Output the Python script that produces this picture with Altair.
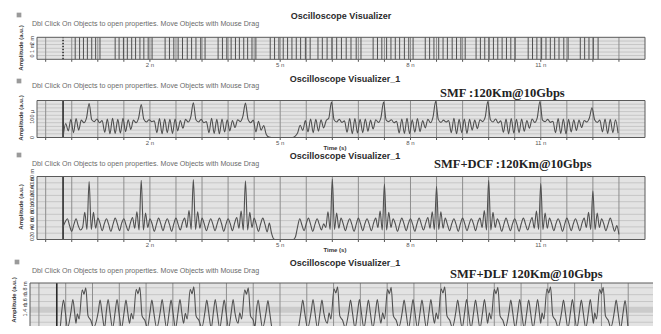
import altair as alt
import pandas as pd

# ------------------------------------------------------------------ data
TIME_DOMAIN = [-0.6, 13.4]          # ns
VGRID = [-0.4, 0.2, 0.8, 1.4, 2.0, 2.6, 3.2, 3.8, 4.4, 5.0, 5.6, 6.2, 6.8,
         7.4, 8.0, 8.6, 9.2, 9.8, 10.4, 11.0, 11.6, 12.2, 12.8]
XTICK_T = [2, 5, 8, 11]
XTICK_LABELS = ["2 n", "5 n", "8 n", "11 n"]

P1_HGRID = [1.7, 3.3, 5.0, 6.7, 8.3]
P2_HGRID = [1, 2, 3, 4, 5, 6, 7, 8, 9]
P3_HGRID = [1, 2, 3, 4, 5, 6, 7, 8, 9]
P4_HGRID = [1.3, 2.6, 3.9, 6.5, 7.8, 9.1]

# panel 1 : transition edges of the input bit stream (ns)
P1_EDGES = [0.28, 0.38, 0.47, 0.56, 0.66, 0.75, 0.85,
            1.2, 1.29, 1.39, 1.48, 1.58, 1.67, 1.77, 1.86, 1.96, 2.05,
            2.35, 2.45, 2.55, 2.65, 2.75, 2.86, 2.96, 3.06, 3.17, 3.27,
            3.57, 3.67, 3.77, 3.87, 3.97, 4.06, 4.16, 4.25, 4.35, 4.44,
            4.77, 4.87, 4.97, 5.07, 5.17, 5.27, 5.37, 5.47, 5.58, 5.69,
            5.87, 5.97, 6.08, 6.19, 6.3, 6.41, 6.52, 6.63, 6.75, 6.86,
            7.14, 7.24, 7.34, 7.45, 7.55, 7.65, 7.75, 7.86, 7.96, 8.06,
            8.34, 8.44, 8.54, 8.65, 8.75, 8.85, 8.96, 9.06, 9.16, 9.26,
            9.51, 9.61, 9.71, 9.81, 9.91, 10.01, 10.11, 10.21, 10.31, 10.41,
            10.71, 10.81, 10.91, 11.02, 11.12, 11.22, 11.32, 11.42, 11.53, 11.63,
            11.91, 12.01, 12.11, 12.21, 12.32]

# panel 2 : SMF 120 km, sampled every 0.06 ns from t = 0
P2_STEP = 0.06
P2_VALUES = [
    0.0, 3.8, 1.8, 4.9, 1.3, 5.1, 2.0, 4.7, 4.0, 5.3,
    9.2,
    4.8, 4.3, 5.0, 4.0, 4.6, 1.4, 5.0, 1.0, 5.2, 1.1, 4.9, 1.2, 5.2, 1.6, 4.8, 2.2, 4.7, 4.0, 5.3,
    8.9,
    4.9, 4.2, 4.8, 4.3, 4.5, 1.3, 5.1, 1.0, 5.0, 1.3, 4.9, 1.1, 5.0, 1.8, 4.6, 2.5, 4.9, 4.2, 5.5,
    9.4,
    4.8, 4.2, 4.9, 4.0, 4.3, 1.3, 5.2, 1.1, 4.9, 1.0, 5.0, 1.5, 4.8, 1.8, 4.6, 2.7, 4.8, 4.3, 5.7,
    9.3,
    4.9, 4.0, 4.7, 1.5, 4.4, 2.0, 3.2, 0.8,
    0.1, 0.0, 0.0, 0.0, 0.0, 0.0, 0.0, 0.0, 0.0, 0.0, 0.3,
    1.2, 3.3, 1.9, 4.6, 1.5, 5.0, 1.3, 4.9, 1.7, 4.8, 2.6, 4.6, 5.3,
    9.6,
    4.8, 4.2, 4.9, 4.1, 4.5, 1.4, 5.1, 1.0, 5.1, 1.2, 4.9, 1.3, 5.0, 1.7, 4.7, 2.3, 4.8, 4.1, 5.4,
    9.6,
    4.7, 4.3, 4.8, 4.0, 4.4, 1.2, 5.0, 1.1, 5.2, 1.0, 4.8, 1.4, 5.1, 1.6, 4.6, 2.6, 4.9, 4.0, 5.6,
    9.8,
    4.9, 4.1, 4.7, 4.2, 4.6, 1.3, 5.2, 1.0, 4.9, 1.3, 5.0, 1.1, 4.9, 2.0, 4.7, 2.4, 4.8, 4.3, 5.5,
    9.7,
    4.8, 4.2, 5.0, 3.9, 4.5, 1.4, 5.0, 1.0, 5.1, 1.2, 4.9, 1.3, 5.0, 1.7, 4.6, 2.5, 5.0, 4.1, 5.4,
    9.7,
    4.7, 4.3, 4.9, 4.1, 4.4, 1.3, 5.1, 1.1, 5.0, 1.0, 4.9, 1.5, 4.8, 1.9, 4.7, 2.7, 4.6, 4.2, 5.3,
    8.0,
    4.8, 4.1, 4.7, 1.5, 5.0, 1.1, 4.9, 1.3, 4.8, 1.2,
]

# panel 3 : SMF + DCF, sampled every 0.05 ns from t = 0
P3_STEP = 0.05
P3_VALUES = [
    2.0, 2.8, 3.3, 2.2, 1.3, 2.4, 3.3, 2.2, 1.5,
    1.9, 4.3, 1.6, 9.2, 1.6, 4.3, 1.8, 3.4, 2.6, 1.4, 2.5, 3.3, 2.4, 1.3, 2.4, 3.4, 2.5, 1.4, 2.6, 3.3, 2.3, 1.4, 2.6, 3.5,
    1.8, 4.4, 1.5, 9.4, 1.5, 4.2, 1.9, 3.3, 2.5, 1.3, 2.4, 3.4, 2.5, 1.4, 2.5, 3.3, 2.4, 1.3, 2.5, 3.4, 2.4, 1.5, 2.7, 3.4,
    1.9, 4.6, 1.6, 9.5, 1.6, 4.4, 1.8, 3.4, 2.5, 1.4, 2.4, 3.3, 2.4, 1.4, 2.5, 3.4, 2.5, 1.3, 2.4, 3.3, 2.5, 1.4, 2.6, 3.5,
    1.8, 4.5, 1.5, 9.3, 1.5, 4.3, 1.9, 3.4, 2.4, 1.3, 2.5, 3.4, 2.4, 1.2, 2.6,
    1.0, 0.1, 0.0, 0.0, 0.0, 0.0, 0.0, 0.0, 0.0, 0.0, 0.0, 0.4,
    2.0, 3.3, 2.3, 1.4, 2.5, 3.4, 2.4, 1.3, 2.4, 3.3, 2.4, 1.5, 2.5,
    1.9, 4.4, 1.6, 9.6, 1.6, 4.2, 1.8, 3.4, 2.5, 1.4, 2.5, 3.3, 2.4, 1.3, 2.4, 3.4, 2.5, 1.4, 2.5, 3.3, 2.4, 1.4, 2.6, 3.4,
    1.9, 4.5, 1.5, 8.8, 1.5, 4.3, 1.9, 3.3, 2.5, 1.3, 2.4, 3.4, 2.5, 1.4, 2.5, 3.3, 2.4, 1.3, 2.5, 3.4, 2.4, 1.5, 2.6, 3.5,
    1.8, 4.4, 1.6, 8.4, 1.6, 4.4, 1.8, 3.4, 2.4, 1.4, 2.5, 3.3, 2.4, 1.3, 2.5, 3.4, 2.5, 1.4, 2.4, 3.3, 2.5, 1.4, 2.7, 3.4,
    1.9, 4.6, 1.5, 9.4, 1.5, 4.3, 1.9, 3.3, 2.5, 1.3, 2.4, 3.4, 2.4, 1.4, 2.5, 3.3, 2.4, 1.3, 2.5, 3.4, 2.4, 1.5, 2.6, 3.5,
    1.8, 4.5, 1.6, 8.9, 1.6, 4.2, 1.8, 3.4, 2.5, 1.4, 2.5, 3.3, 2.5, 1.3, 2.4, 3.4, 2.5, 1.4, 2.5, 3.3, 2.4, 1.4, 2.6, 3.4,
    1.9, 4.3, 1.6, 7.7, 1.6, 4.2, 1.9, 3.3, 2.5, 1.4, 2.4, 3.4, 2.4, 1.3, 2.2, 0.8,
]

# panel 4 : SMF + DLF, waveform vertices (t ns, amplitude)
P4_POINTS = [
    (0.00, 1.8), (0.07, 1.4), (0.11, 4.6), (0.15, 6.8), (0.19, 4.6), (0.24, 1.5),
    (0.32, 4.7), (0.36, 6.9), (0.40, 4.4),
    (0.43, 2.4), (0.46, 4.2), (0.50, 3.2), (0.57, 8.7), (0.61, 7.9), (0.65, 9.1), (0.70, 3.8), (0.76, 3.0), (0.82, 1.6),
    (0.93, 4.6), (0.97, 6.8), (1.01, 4.6), (1.07, 1.5), (1.11, 4.6), (1.15, 6.9), (1.19, 4.6), (1.25, 1.5),
    (1.31, 4.7), (1.35, 6.9), (1.39, 4.6), (1.45, 1.5), (1.51, 4.6), (1.55, 6.8), (1.59, 4.4),
    (1.63, 2.4), (1.67, 4.3), (1.71, 3.2), (1.78, 8.8), (1.82, 8.0), (1.86, 9.2), (1.91, 3.8), (1.97, 3.0), (2.03, 1.6),
    (2.09, 4.6), (2.13, 6.8), (2.17, 4.6), (2.24, 1.5), (2.32, 4.7), (2.36, 6.9), (2.40, 4.6), (2.46, 1.5),
    (2.52, 4.6), (2.56, 6.8), (2.60, 4.6), (2.66, 1.5), (2.72, 4.7), (2.76, 6.9), (2.80, 4.4),
    (2.84, 2.4), (2.88, 4.3), (2.92, 3.2), (2.99, 8.8), (3.03, 8.0), (3.07, 9.3), (3.12, 3.8), (3.18, 3.0), (3.25, 1.6),
    (3.32, 4.6), (3.36, 6.8), (3.40, 4.6), (3.46, 1.5), (3.51, 4.6), (3.55, 6.9), (3.59, 4.6), (3.65, 1.5),
    (3.71, 4.7), (3.75, 6.8), (3.79, 4.6), (3.85, 1.5), (3.91, 4.6), (3.95, 6.9), (3.99, 4.4),
    (4.06, 2.4), (4.10, 4.4), (4.14, 3.2), (4.21, 8.7), (4.25, 7.9), (4.29, 9.1), (4.34, 3.8), (4.40, 3.0), (4.44, 1.7),
    (4.47, 4.6), (4.51, 6.8), (4.55, 4.6), (4.61, 1.5), (4.69, 4.6), (4.73, 6.7), (4.77, 4.4), (4.83, 1.2),
    (4.92, 0.7), (5.30, 0.7), (5.40, 1.2),
    (5.47, 4.6), (5.51, 6.8), (5.55, 4.6), (5.62, 1.5), (5.70, 4.7), (5.74, 6.9), (5.78, 4.6), (5.84, 1.5),
    (5.90, 4.6), (5.94, 6.8), (5.98, 4.4),
    (6.06, 2.4), (6.10, 4.4), (6.14, 3.2), (6.21, 8.9), (6.25, 8.1), (6.29, 9.3), (6.34, 3.8), (6.40, 3.0), (6.46, 1.6),
    (6.54, 4.6), (6.58, 6.8), (6.62, 4.6), (6.68, 1.5), (6.74, 4.7), (6.78, 6.9), (6.82, 4.6), (6.88, 1.5),
    (6.94, 4.6), (6.98, 6.8), (7.02, 4.6), (7.08, 1.5), (7.14, 4.6), (7.18, 6.9), (7.22, 4.4),
    (7.26, 2.4), (7.30, 4.4), (7.34, 3.2), (7.41, 8.8), (7.45, 8.0), (7.49, 9.2), (7.54, 3.8), (7.60, 3.0), (7.66, 1.6),
    (7.74, 4.6), (7.78, 6.8), (7.82, 4.6), (7.88, 1.5), (7.94, 4.7), (7.98, 6.9), (8.02, 4.6), (8.08, 1.5),
    (8.14, 4.6), (8.18, 6.8), (8.22, 4.6), (8.28, 1.5), (8.34, 4.6), (8.38, 6.9), (8.42, 4.4),
    (8.46, 2.4), (8.50, 4.4), (8.54, 3.2), (8.61, 8.9), (8.65, 8.1), (8.69, 9.3), (8.74, 3.8), (8.80, 3.0), (8.86, 1.6),
    (8.94, 4.6), (8.98, 6.8), (9.02, 4.6), (9.08, 1.5), (9.14, 4.7), (9.18, 6.9), (9.22, 4.6), (9.28, 1.5),
    (9.34, 4.6), (9.38, 6.8), (9.42, 4.6), (9.48, 1.5), (9.54, 4.6), (9.58, 6.9), (9.62, 4.4),
    (9.65, 2.4), (9.69, 4.4), (9.73, 3.2), (9.80, 8.8), (9.84, 8.0), (9.88, 9.2), (9.93, 3.8), (9.99, 3.0), (10.05, 1.6),
    (10.13, 4.6), (10.17, 6.8), (10.21, 4.6), (10.27, 1.5), (10.33, 4.7), (10.37, 6.9), (10.41, 4.6), (10.47, 1.5),
    (10.53, 4.6), (10.57, 6.8), (10.61, 4.6), (10.67, 1.5), (10.73, 4.6), (10.77, 6.9), (10.81, 4.4),
    (10.84, 2.4), (10.87, 4.4), (10.91, 3.2), (10.98, 8.9), (11.02, 8.1), (11.06, 9.3), (11.11, 3.8), (11.17, 3.0), (11.23, 1.6),
    (11.31, 4.6), (11.35, 6.8), (11.39, 4.6), (11.45, 1.5), (11.51, 4.7), (11.55, 6.9), (11.59, 4.6), (11.65, 1.5),
    (11.71, 4.6), (11.75, 6.8), (11.79, 4.6), (11.85, 1.5), (11.91, 4.6), (11.95, 6.9), (11.99, 4.4),
    (12.02, 2.4), (12.05, 4.4), (12.09, 3.2), (12.16, 8.8), (12.20, 8.0), (12.24, 9.2), (12.29, 3.8), (12.35, 3.0), (12.41, 1.6),
    (12.49, 4.6), (12.53, 6.8), (12.57, 4.6), (12.63, 1.5), (12.69, 4.7), (12.73, 6.7), (12.77, 4.0), (12.80, 1.0),
]

TITLES = ["Oscilloscope Visualizer", "Oscilloscope Visualizer_1",
          "Oscilloscope Visualizer_1", "Oscilloscope Visualizer_1"]
HINT = "Dbl Click On Objects to open properties.  Move Objects with Mouse Drag"
CASES = [None, "SMF :120Km@10Gbps", "SMF+DCF :120Km@10Gbps", "SMF+DLF 120Km@10Gbps"]
Y_TITLE = "Amplitude (a.u.)"
P2_YLABELS = [(0, "0"), (5.6, "100 \u03bc")]
P3_YLABELS = [(0, "0"), (1.25, "20 m"), (2.5, "40 m"), (3.75, "60 m"), (5, "80 m"),
              (6.25, "100 m"), (7.5, "120 m"), (8.75, "140 m"), (10, "160 m")]
P1_YLABELS = [(1.5, "0"), (5, "1 m"), (8.5, "2 m")]
P4_YLABELS = [(5.0, "1.4 m"), (7.0, "1.6 m"), (9.0, "1.8 m")]

# ------------------------------------------------------------------ style
BG = "#e3e3e3"
HGRID_C = "#c6c6c6"
VGRID_C = "#8e8e8e"
WAVE_C = "#505050"
BORDER_C = "#5a5a5a"
FONT = "Liberation Sans"

X_MAIN = [29, 637]
X_P4 = [22, 647]


def panel(top, bottom, xr, hgrid, ylabels, ytitle_y, wave=None, edges=None,
          band=None, xlabels=True, time_title=False, zero_dash=None):
    xs = alt.Scale(domain=TIME_DOMAIN, range=xr, zero=False, nice=False)
    ys = alt.Scale(domain=[0, 10], range=[bottom, top], zero=False, nice=False)
    one = pd.DataFrame({"a": [0]})

    def X(f):
        return alt.X(f, type="quantitative", scale=xs, axis=None)

    def Y(f):
        return alt.Y(f, type="quantitative", scale=ys, axis=None)

    xd0 = alt.XDatum(TIME_DOMAIN[0], scale=xs, axis=None)
    xd1 = alt.X2Datum(TIME_DOMAIN[1])
    yd0 = alt.YDatum(0, scale=ys, axis=None)
    yd1 = alt.Y2Datum(10)

    L = []
    L.append(alt.Chart(one).mark_rect(color=BG).encode(x=xd0, x2=xd1, y=yd0, y2=yd1))
    if band is not None:
        L.append(alt.Chart(one).mark_rect(color="#cbcbcb").encode(
            x=xd0, x2=xd1, y=alt.YDatum(band[0], scale=ys, axis=None), y2=alt.Y2Datum(band[1])))
    L.append(alt.Chart(pd.DataFrame({"v": hgrid})).mark_rule(color=HGRID_C, strokeWidth=1).encode(
        x=xd0, x2=xd1, y=Y("v")))
    vg = pd.DataFrame({"t": VGRID})
    L.append(alt.Chart(vg).mark_rule(color=VGRID_C, strokeWidth=1).encode(
        x=X("t"), y=yd0, y2=yd1))
    L.append(alt.Chart(vg).mark_rule(color="#555", strokeWidth=1).encode(
        x=X("t"), y=alt.value(bottom), y2=alt.value(bottom + 2.5)))
    L.append(alt.Chart(pd.DataFrame({"t": [0.0]})).mark_rule(
        color="#2a2a2a", strokeWidth=1.6, strokeDash=zero_dash or [1, 0]).encode(
        x=X("t"), y=yd0, y2=yd1))
    if edges is not None:
        L.append(alt.Chart(pd.DataFrame({"t": edges})).mark_rule(color=WAVE_C, strokeWidth=1).encode(
            x=X("t"), y=yd0, y2=yd1))
    if wave is not None:
        L.append(alt.Chart(wave).mark_line(color=WAVE_C, strokeWidth=1.1, clip=True,
                                           interpolate="monotone").encode(
            x=X("t"), y=Y("v"), order="t:Q"))
    L.append(alt.Chart(one).mark_rect(fillOpacity=0, stroke=BORDER_C, strokeWidth=1).encode(
        x=xd0, x2=xd1, y=yd0, y2=yd1))
    if xlabels:
        L.append(alt.Chart(pd.DataFrame({"t": XTICK_T, "lab": XTICK_LABELS})).mark_text(
            font=FONT, fontSize=6, color="#555", baseline="middle").encode(
            x=X("t"), y=alt.value(bottom + 5.5), text="lab:N"))
    if time_title:
        L.append(alt.Chart(one).mark_text(font=FONT, fontSize=6, fontWeight="bold", color="#333",
                                          baseline="middle").encode(
            x=alt.value(327), y=alt.value(bottom + 10.5), text=alt.value("Time (s)")))
    yl = pd.DataFrame({"v": [a for a, _ in ylabels], "lab": [b for _, b in ylabels]})
    L.append(alt.Chart(yl).mark_text(font=FONT, fontSize=5.5, color="#333", angle=270,
                                     baseline="middle", align="center").encode(
        x=alt.value(xr[0] - 5), y=Y("v"), text="lab:N"))
    L.append(alt.Chart(one).mark_text(font=FONT, fontSize=6, fontWeight="bold", color="#333",
                                      angle=270, baseline="middle", align="center").encode(
        x=alt.value(xr[0] - 16), y=alt.value(ytitle_y), text=alt.value(Y_TITLE)))
    return L


def header(hint_y, icon_xy, case=None, case_xy=None):
    one = pd.DataFrame({"a": [0]})
    L = [
        alt.Chart(one).mark_text(font=FONT, fontSize=7.1, color="#6a6a6a",
                                 baseline="middle", align="left").encode(
            x=alt.value(24), y=alt.value(hint_y), text=alt.value(HINT)),
        alt.Chart(one).mark_square(size=22, color="#9a9a9a", opacity=1).encode(
            x=alt.value(icon_xy[0]), y=alt.value(icon_xy[1])),
    ]
    if case is not None:
        L.append(alt.Chart(one).mark_text(font="Liberation Serif", fontSize=12.5, fontWeight="bold",
                                          color="#222", baseline="middle", align="left").encode(
            x=alt.value(case_xy[0]), y=alt.value(case_xy[1]), text=alt.value(case)))
    return L


def title_layer(text, x, y):
    one = pd.DataFrame({"a": [0]})
    return alt.Chart(one).mark_text(font=FONT, fontSize=9, fontWeight="bold", color="#2b2b2b",
                                    baseline="middle", align="center").encode(
        x=alt.value(x), y=alt.value(y), text=alt.value(text))


p2_df = pd.DataFrame({"t": [round(i * P2_STEP, 4) for i in range(len(P2_VALUES))], "v": P2_VALUES})
p3_df = pd.DataFrame({"t": [round(i * P3_STEP, 4) for i in range(len(P3_VALUES))], "v": P3_VALUES})
p4_df = pd.DataFrame({"t": [a for a, _ in P4_POINTS], "v": [b for _, b in P4_POINTS]})

layers = []
# panel 1
layers += panel(29.3, 51.3, X_MAIN, P1_HGRID, P1_YLABELS, 40, edges=P1_EDGES, zero_dash=[1.5, 1.5])
layers += header(16.3, (11, 7))
layers.append(title_layer(TITLES[0], 333, 7.7))
# panel 2
layers += panel(92.5, 129.5, X_MAIN, P2_HGRID, P2_YLABELS, 110, wave=p2_df, time_title=True)
layers += header(77.5, (11, 73), CASES[1], (432, 85))
layers.append(title_layer(TITLES[1], 337, 71))
# panel 3
layers += panel(168.5, 231.5, X_MAIN, P3_HGRID, P3_YLABELS, 199, wave=p3_df, time_title=True)
layers += header(156, (11, 147), CASES[2], (426, 156))
layers.append(title_layer(TITLES[2], 337, 147.7))
# panel 4
layers += panel(275, 328, X_P4, P4_HGRID, P4_YLABELS, 292, wave=p4_df, band=[4.4, 5.5], xlabels=False)
layers += header(263, (9, 254), CASES[3], (442, 266))
layers.append(title_layer(TITLES[3], 337, 255))

chart = alt.layer(*layers).resolve_scale(x="independent", y="independent").properties(
    width=645, height=318, padding=0, autosize=alt.AutoSizeParams(type="none"),
    background="white",
).configure_view(stroke=None)

chart.save("out.html", embed_options={"renderer": "svg", "actions": False})
